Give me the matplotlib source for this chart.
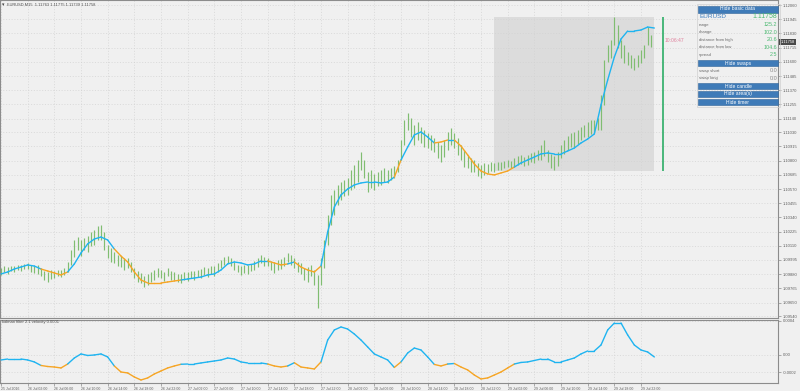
import matplotlib
matplotlib.use("Agg")
import matplotlib.pyplot as plt
from matplotlib.collections import LineCollection
from matplotlib.patches import Rectangle
import matplotlib.transforms as mtransforms
import numpy as np

plt.rcParams['font.family'] = ['Liberation Sans', 'DejaVu Sans']

# ---------------- data ----------------
symbol = "EURUSD"
header = "EURUSD,M15  1.11763 1.11775 1.11739 1.11758"
indicator_name = "kalman filter 2.1 velocity 0.0001"
last_price = 1.11758
timer_text = "10:06:47"

# half-hour price bars (hours since 25 Jul 2016 22:00)
bar_step_hours = 0.5
bar_high = [1.09930, 1.09946, 1.09938, 1.09946, 1.09946, 1.09955, 1.09955, 1.09963, 1.09971, 1.09955,
            1.09946, 1.09955, 1.09930, 1.09906, 1.09898, 1.09914, 1.09906, 1.09914, 1.09914, 1.09930,
            1.09979, 1.10076, 1.10157, 1.10181, 1.10157, 1.10173, 1.10189, 1.10222, 1.10238, 1.10270,
            1.10278, 1.10222, 1.10116, 1.10092, 1.10060, 1.10036, 1.10027, 1.10011, 1.10011, 1.09979,
            1.09930, 1.09906, 1.09890, 1.09865, 1.09882, 1.09898, 1.09914, 1.09930, 1.09914, 1.09898,
            1.09930, 1.09906, 1.09898, 1.09882, 1.09882, 1.09898, 1.09898, 1.09906, 1.09906, 1.09914,
            1.09922, 1.09938, 1.09930, 1.09946, 1.09946, 1.09971, 1.09995, 1.10019, 1.10027, 1.10011,
            1.09979, 1.09955, 1.09946, 1.09955, 1.09955, 1.09963, 1.09987, 1.10011, 1.10036, 1.10019,
            1.10011, 1.09987, 1.09979, 1.09995, 1.10003, 1.10019, 1.10052, 1.10036, 1.10011, 1.09979,
            1.09971, 1.09930, 1.09938, 1.09955, 1.09914, 1.09874, 1.10011, 1.10157, 1.10360, 1.10521,
            1.10562, 1.10603, 1.10627, 1.10643, 1.10659, 1.10724, 1.10765, 1.10805, 1.10870, 1.10805,
            1.10708, 1.10724, 1.10692, 1.10708, 1.10724, 1.10740, 1.10724, 1.10740, 1.10756, 1.10805,
            1.10967, 1.11129, 1.11186, 1.11145, 1.11089, 1.11113, 1.11072, 1.11048, 1.11024, 1.11008,
            1.10983, 1.10951, 1.10926, 1.10967, 1.11032, 1.11064, 1.11024, 1.10983, 1.10926, 1.10886,
            1.10846, 1.10821, 1.10805, 1.10781, 1.10765, 1.10781, 1.10773, 1.10789, 1.10781, 1.10789,
            1.10789, 1.10797, 1.10805, 1.10797, 1.10821, 1.10837, 1.10846, 1.10829, 1.10846, 1.10862,
            1.10870, 1.10886, 1.10926, 1.10967, 1.10886, 1.10854, 1.10837, 1.10870, 1.10926, 1.10967,
            1.11000, 1.11024, 1.11032, 1.11048, 1.11072, 1.11089, 1.11113, 1.11129, 1.11129, 1.11145,
            1.11332, 1.11615, 1.11736, 1.11777, 1.11963, 1.11899, 1.11777, 1.11736, 1.11680, 1.11656,
            1.11631, 1.11656, 1.11696, 1.11736, 1.11882, 1.11817]
bar_low = [1.09874, 1.09898, 1.09882, 1.09906, 1.09898, 1.09914, 1.09906, 1.09922, 1.09922, 1.09898,
           1.09890, 1.09882, 1.09865, 1.09833, 1.09817, 1.09841, 1.09849, 1.09865, 1.09857, 1.09874,
           1.09898, 1.09955, 1.10019, 1.10076, 1.10027, 1.10076, 1.10060, 1.10108, 1.10116, 1.10157,
           1.10157, 1.10076, 1.10011, 1.09979, 1.09971, 1.09946, 1.09938, 1.09914, 1.09930, 1.09898,
           1.09849, 1.09817, 1.09809, 1.09776, 1.09793, 1.09817, 1.09833, 1.09857, 1.09849, 1.09825,
           1.09865, 1.09833, 1.09833, 1.09817, 1.09809, 1.09833, 1.09825, 1.09849, 1.09833, 1.09857,
           1.09849, 1.09874, 1.09857, 1.09882, 1.09865, 1.09898, 1.09930, 1.09955, 1.09971, 1.09946,
           1.09914, 1.09898, 1.09874, 1.09890, 1.09882, 1.09906, 1.09914, 1.09938, 1.09971, 1.09946,
           1.09946, 1.09914, 1.09890, 1.09914, 1.09922, 1.09946, 1.09979, 1.09955, 1.09930, 1.09898,
           1.09882, 1.09833, 1.09817, 1.09865, 1.09793, 1.09606, 1.09793, 1.09930, 1.10116, 1.10278,
           1.10360, 1.10441, 1.10481, 1.10513, 1.10521, 1.10562, 1.10578, 1.10627, 1.10724, 1.10659,
           1.10546, 1.10578, 1.10562, 1.10595, 1.10603, 1.10627, 1.10619, 1.10643, 1.10659, 1.10708,
           1.10805, 1.10926, 1.11048, 1.10991, 1.10926, 1.10967, 1.10943, 1.10910, 1.10902, 1.10886,
           1.10870, 1.10821, 1.10789, 1.10829, 1.10886, 1.10926, 1.10902, 1.10846, 1.10805, 1.10748,
           1.10740, 1.10708, 1.10708, 1.10675, 1.10659, 1.10684, 1.10700, 1.10716, 1.10708, 1.10724,
           1.10724, 1.10740, 1.10748, 1.10740, 1.10748, 1.10765, 1.10773, 1.10756, 1.10765, 1.10789,
           1.10781, 1.10805, 1.10805, 1.10837, 1.10789, 1.10740, 1.10724, 1.10756, 1.10821, 1.10854,
           1.10886, 1.10910, 1.10910, 1.10935, 1.10967, 1.10991, 1.10991, 1.11016, 1.11032, 1.11048,
           1.11048, 1.11251, 1.11599, 1.11631, 1.11736, 1.11712, 1.11631, 1.11591, 1.11575, 1.11550,
           1.11534, 1.11558, 1.11591, 1.11631, 1.11736, 1.11720]

# kalman filter (hourly)
kalman = [1.09882, 1.09898, 1.09922, 1.09938, 1.09955, 1.09946, 1.09922, 1.09906, 1.09890, 1.09874,
          1.09898, 1.09963, 1.10052, 1.10125, 1.10165, 1.10181, 1.10157, 1.10084, 1.10027, 1.09979,
          1.09898, 1.09833, 1.09809, 1.09809, 1.09809, 1.09817, 1.09825, 1.09833, 1.09841, 1.09849,
          1.09857, 1.09874, 1.09882, 1.09914, 1.09963, 1.09979, 1.09971, 1.09955, 1.09963, 1.09987,
          1.09987, 1.09971, 1.09955, 1.09963, 1.09979, 1.09938, 1.09914, 1.09898, 1.09946, 1.10222,
          1.10424, 1.10522, 1.10570, 1.10603, 1.10619, 1.10627, 1.10627, 1.10619, 1.10627, 1.10667,
          1.10805, 1.10910, 1.11008, 1.11032, 1.10991, 1.10943, 1.10951, 1.10967, 1.10967, 1.10918,
          1.10846, 1.10773, 1.10716, 1.10692, 1.10684, 1.10700, 1.10716, 1.10748, 1.10781, 1.10805,
          1.10829, 1.10854, 1.10862, 1.10854, 1.10854, 1.10878, 1.10902, 1.10943, 1.10975, 1.11016,
          1.11251, 1.11453, 1.11639, 1.11785, 1.11850, 1.11850, 1.11858, 1.11882, 1.11874]

# kalman velocity (hourly)
velocity = [-0.000058, -0.000047, -0.000047, -0.000047, -0.000058, -0.000081, -0.000122, -0.000134, -0.000140, -0.000151,
            -0.000105, -0.000035, 0.000012, -0.000006, 0.000000, 0.000012, -0.000023, -0.000128, -0.000198, -0.000209,
            -0.000256, -0.000291, -0.000267, -0.000221, -0.000186, -0.000151, -0.000128, -0.000108, -0.000105, -0.000105,
            -0.000093, -0.000081, -0.000070, -0.000058, -0.000035, -0.000047, -0.000081, -0.000093, -0.000093, -0.000093,
            -0.000105, -0.000128, -0.000140, -0.000128, -0.000090, -0.000140, -0.000151, -0.000163, -0.000081, 0.000174,
            0.000291, 0.000326, 0.000302, 0.000244, 0.000174, 0.000093, 0.000012, -0.000023, -0.000058, -0.000145,
            -0.000081, 0.000023, 0.000081, 0.000058, -0.000023, -0.000110, -0.000128, -0.000105, -0.000099, -0.000140,
            -0.000174, -0.000233, -0.000279, -0.000267, -0.000233, -0.000198, -0.000151, -0.000105, -0.000087, -0.000081,
            -0.000064, -0.000047, -0.000047, -0.000081, -0.000081, -0.000058, -0.000035, 0.000012, 0.000047, 0.000047,
            0.000116, 0.000291, 0.000372, 0.000372, 0.000233, 0.000116, 0.000058, 0.000035, -0.000023]
velocity_threshold = -0.00011

# current day (29 Jul) area / candle
day_start_hour = 74
day_high = 1.11964
day_low = 1.10712

price_labels = ["1.12060", "1.11945", "1.11830", "1.11715", "1.11600", "1.11485", "1.11370", "1.11255",
                "1.11140", "1.11030", "1.10915", "1.10800", "1.10685", "1.10570", "1.10455", "1.10340",
                "1.10225", "1.10110", "1.09995", "1.09880", "1.09765", "1.09650", "1.09540"]
velocity_labels = ["0.0004", "0.00", "-0.0002"]
time_labels = ["25 Jul 2016",
               "26 Jul 02:00", "26 Jul 06:00", "26 Jul 10:00", "26 Jul 14:00", "26 Jul 18:00", "26 Jul 22:00",
               "27 Jul 02:00", "27 Jul 06:00", "27 Jul 10:00", "27 Jul 14:00", "27 Jul 18:00", "27 Jul 22:00",
               "28 Jul 02:00", "28 Jul 06:00", "28 Jul 10:00", "28 Jul 14:00", "28 Jul 18:00", "28 Jul 22:00",
               "29 Jul 02:00", "29 Jul 06:00", "29 Jul 10:00", "29 Jul 14:00", "29 Jul 18:00", "29 Jul 22:00"]
time_label_step_hours = 4

panel_labels = ["range", "change", "distance from high", "distance from low", "spread"]
panel_values = [125.2, 102.0, 20.6, 104.6, 2.5]
swap_labels = ["swap short", "swap long"]
swap_values = [0.0, 0.0]

# ---------------- style ----------------
BG = "#f0f0f0"
GRID = "#d2d2d2"
BAR = "#80bd71"
CYAN = "#1fb4f0"
ORANGE = "#f6a524"
AXC = "#8c8c8c"
TXT = "#606060"
BTN = "#3f7bb8"

W, H = 800, 391
fig = plt.figure(figsize=(W / 100, H / 100), dpi=100)
fig.patch.set_facecolor(BG)


def fx(x):
    return x / W


def fy(y):
    return 1 - y / H


ax = fig.add_axes([0, fy(318), fx(778), 318 / H])
ax2 = fig.add_axes([0, fy(383), fx(778), 63 / H])
for a in (ax, ax2):
    a.set_facecolor(BG)
    for s in a.spines.values():
        s.set_color(AXC)
        s.set_linewidth(0.8)

hours = np.arange(len(kalman))
bar_hours = np.arange(len(bar_high)) * bar_step_hours
xmin, xmax = -0.15, 116.55
ax.set_xlim(xmin, xmax)
ax2.set_xlim(xmin, xmax)
ax.set_ylim(1.095252, 1.12101)
ax2.set_ylim(-0.000326, 0.000407)

# grid / ticks
tick_hours = np.arange(len(time_labels)) * time_label_step_hours
price_vals = [float(p) for p in price_labels]
ax.set_xticks(tick_hours)
ax.set_xticklabels([])
ax.set_yticks(price_vals)
ax.set_yticklabels(price_labels)
ax.yaxis.tick_right()
ax.tick_params(axis='y', labelsize=3.0, colors=AXC, labelcolor=TXT, length=2, width=0.5, pad=1.5)
ax.tick_params(axis='x', length=0)
ax.grid(True, color=GRID, linestyle=(0, (1.5, 2.5)), linewidth=0.5)

vel_vals = [float(v) for v in velocity_labels]
ax2.set_yticks(vel_vals)
ax2.set_yticklabels(velocity_labels)
ax2.yaxis.tick_right()
ax2.tick_params(axis='y', labelsize=3.0, colors=AXC, labelcolor=TXT, length=2, width=0.5, pad=1.5)
ax2.set_xticks(tick_hours)
ax2.set_xticklabels(time_labels)
ax2.tick_params(axis='x', labelsize=2.5, colors=AXC, labelcolor=TXT, length=2, width=0.5, pad=1.2)
for lab in ax2.get_xticklabels():
    lab.set_horizontalalignment('left')
ax2.grid(True, color=GRID, linestyle=(0, (1.5, 2.5)), linewidth=0.5)

# day area
area_end = bar_hours[-1] + bar_step_hours
ax.add_patch(Rectangle((day_start_hour, day_low), area_end - day_start_hour, day_high - day_low,
                       facecolor="#dcdcdc", edgecolor="none", zorder=1))

# bars
ax.vlines(bar_hours, bar_low, bar_high, color=BAR, linewidth=0.85, zorder=2)

# kalman colored lines
vel = np.array(velocity)
seg_orange = (vel[:-1] + vel[1:]) / 2 < velocity_threshold
cols = [ORANGE if o else CYAN for o in seg_orange]
pts = np.column_stack([hours, kalman])
segs = np.stack([pts[:-1], pts[1:]], axis=1)
ax.add_collection(LineCollection(segs, colors=cols, linewidths=1.0, zorder=3, capstyle='round'))
pts2 = np.column_stack([hours, velocity])
segs2 = np.stack([pts2[:-1], pts2[1:]], axis=1)
ax2.add_collection(LineCollection(segs2, colors=cols, linewidths=1.0, zorder=3, capstyle='round'))

# daily candle line
candle_x = area_end + 1.3
ax.vlines([candle_x], [day_low], [day_high], color="#3cb371", linewidth=1.3, zorder=3)
ax.text(candle_x + 0.3, last_price + 0.00012, timer_text, fontsize=3.6, color="#e0809c",
        va='center', ha='left', zorder=4)

# current price tag
trans = mtransforms.blended_transform_factory(ax.transAxes, ax.transData)
ax.text(1.003, last_price + 0.00005, f"{last_price:.5f}", transform=trans, fontsize=2.9, color="white",
        va='center', ha='left', clip_on=False, zorder=5,
        bbox=dict(boxstyle="square,pad=0.25", facecolor="#4a4a4a", edgecolor="none"))

# header texts
fig.text(fx(2), fy(4.5), "\u25be", fontsize=3.5, color="#404040", va='center', ha='left', family='DejaVu Sans')
fig.text(fx(7), fy(4.5), header, fontsize=2.9, color="#505050", va='center', ha='left')
fig.text(fx(2), fy(322.5), indicator_name, fontsize=3.0, color="#505050", va='center', ha='left')

# info panel
fig.add_artist(Rectangle((fx(696.5), fy(107)), fx(779.5) - fx(696.5), 103.5 / H, transform=fig.transFigure,
                         facecolor="none", edgecolor="#d0d0d0", linewidth=0.5))


def button(y0, y1, text):
    fig.add_artist(Rectangle((fx(698), fy(y1)), fx(778) - fx(698), (y1 - y0) / H, transform=fig.transFigure,
                             facecolor=BTN, edgecolor="#2f6398", linewidth=0.4))
    fig.text(fx(738), fy((y0 + y1) / 2), text, fontsize=3.6, color="white", va='center', ha='center')


button(5.5, 12.5, "Hide basic data")
fig.text(fx(699), fy(17), symbol, fontsize=4.6, color="#3f7fc0", va='center', ha='left')
fig.text(fx(777), fy(17), f"{last_price:.5f}", fontsize=5.0, color="#4cba72", va='center', ha='right')
for i, (lab, val) in enumerate(zip(panel_labels, panel_values)):
    yy = 25 + i * 7.4
    fig.text(fx(699), fy(yy), lab, fontsize=3.1, color="#6a6a6a", va='center', ha='left')
    fig.text(fx(777), fy(yy), f"{val:.1f}", fontsize=3.9, color="#4cba72", va='center', ha='right')
button(59.7, 66.3, "Hide swaps")
for i, (lab, val) in enumerate(zip(swap_labels, swap_values)):
    yy = 71 + i * 7.5
    fig.text(fx(699), fy(yy), lab, fontsize=3.1, color="#6a6a6a", va='center', ha='left')
    fig.text(fx(777), fy(yy), f"{val:.1f}", fontsize=3.9, color="#8a8a8a", va='center', ha='right')
button(82.7, 89.3, "Hide candle")
button(90.7, 97.3, "Hide area(s)")
button(98.7, 105.3, "Hide timer")

fig.savefig("out.png", dpi=100, facecolor=BG)
